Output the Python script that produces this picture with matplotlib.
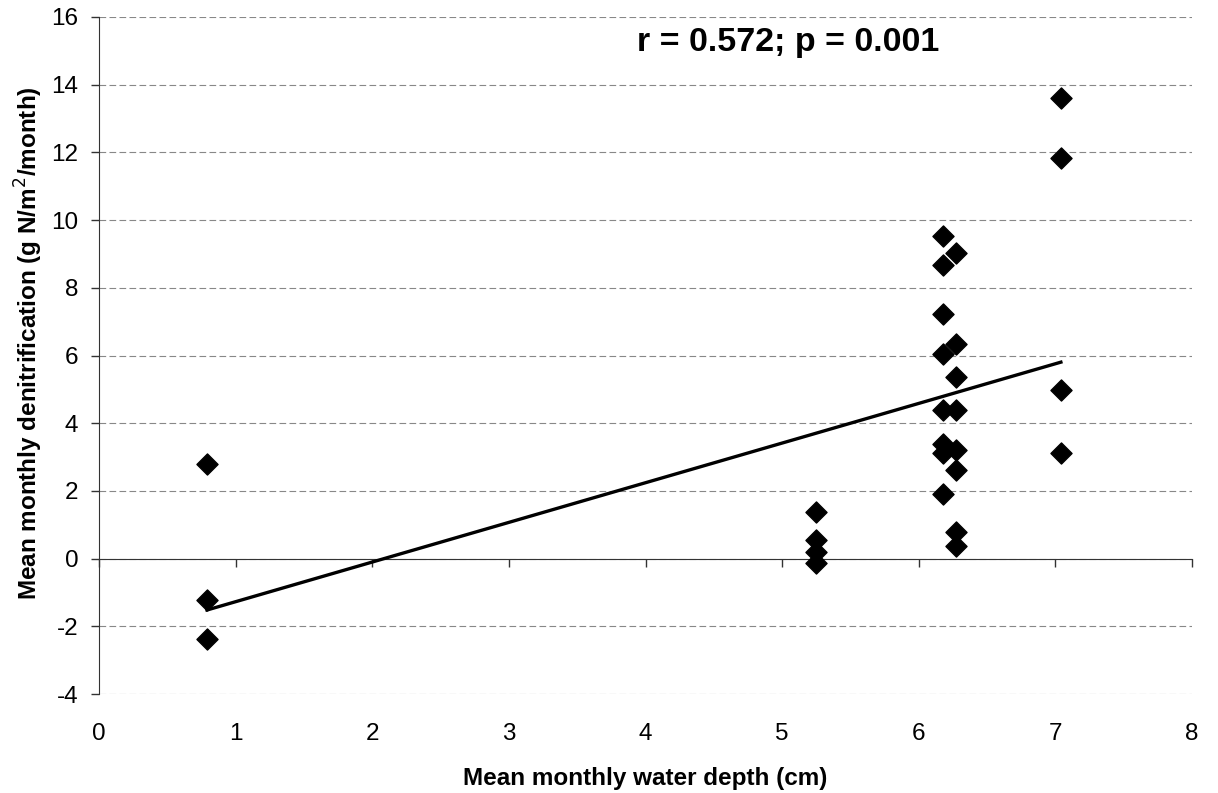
import numpy as np
import matplotlib
matplotlib.use("Agg")
import matplotlib.pyplot as plt

plt.rcParams["font.family"] = ["Liberation Sans", "DejaVu Sans"]
plt.rcParams["axes.unicode_minus"] = False

# mean monthly water depth (cm), one entry per point
depth = [0.79, 0.79, 0.79,
         5.25, 5.25, 5.25, 5.25,
         6.18, 6.18, 6.18, 6.18, 6.18, 6.18, 6.18, 6.18,
         6.27, 6.27, 6.27, 6.27, 6.27, 6.27, 6.27, 6.27,
         7.04, 7.04, 7.04, 7.04]
# mean monthly denitrification (g N/m2/month)
denit = [2.80, -1.23, -2.38,
         1.37, 0.54, 0.19, -0.12,
         9.53, 8.66, 7.24, 6.05, 4.38, 3.39, 3.13, 1.90,
         9.03, 6.35, 5.36, 4.38, 3.20, 2.61, 0.78, 0.37,
         13.60, 11.84, 4.97, 3.13]
x_ticks = list(range(0, 9))
y_ticks = list(range(-4, 17, 2))
stats_label = "r = 0.572; p = 0.001"

fig = plt.figure(figsize=(12.18, 7.93), dpi=100)
ax = fig.add_axes([0.0813, 0.1248, 0.8974, 0.8538])

# linear trend over the data range
slope, icpt = np.polyfit(depth, denit, 1)
xfit = np.array([min(depth), max(depth)])
ax.plot(xfit, slope * xfit + icpt, color="black", lw=2.4, zorder=3)
ax.scatter(depth, denit, marker="D", s=115, color="black", zorder=4)

ax.set_xlim(0, 8)
ax.set_ylim(-4, 16)
ax.set_yticks(y_ticks)
ax.set_xticks(x_ticks)
ax.yaxis.grid(True, color="#888888", lw=0.8, linestyle=(0, (6, 3)))
ax.set_axisbelow(True)

for side in ("top", "right"):
    ax.spines[side].set_visible(False)
ax.spines["bottom"].set_position(("data", 0))
ax.spines["bottom"].set_color("#333333")
ax.spines["left"].set_color("#333333")
ax.tick_params(axis="x", labelbottom=False, length=6, width=1, color="#333333")
ax.tick_params(axis="y", labelsize=17.5, length=6, width=1, pad=9, color="#333333")

# x tick labels sit under the plot, not on the zero line
sec = ax.secondary_xaxis("bottom")
sec.set_xticks(x_ticks)
sec.spines["bottom"].set_visible(False)
sec.tick_params(length=0, pad=21, labelsize=17.5)
sec.set_xlabel("Mean monthly water depth (cm)", fontsize=17.5, fontweight="bold",
               labelpad=16)

ax.set_ylabel("Mean monthly denitrification (g N/m$^2$/month)", fontsize=17.5,
              fontweight="bold")
ax.yaxis.set_label_coords(-0.049, 0.518)

ax.text(0.492, 0.985, stats_label, transform=ax.transAxes, ha="left", va="top",
        fontsize=24.5, fontweight="bold")

fig.savefig("out.png", dpi=100)
